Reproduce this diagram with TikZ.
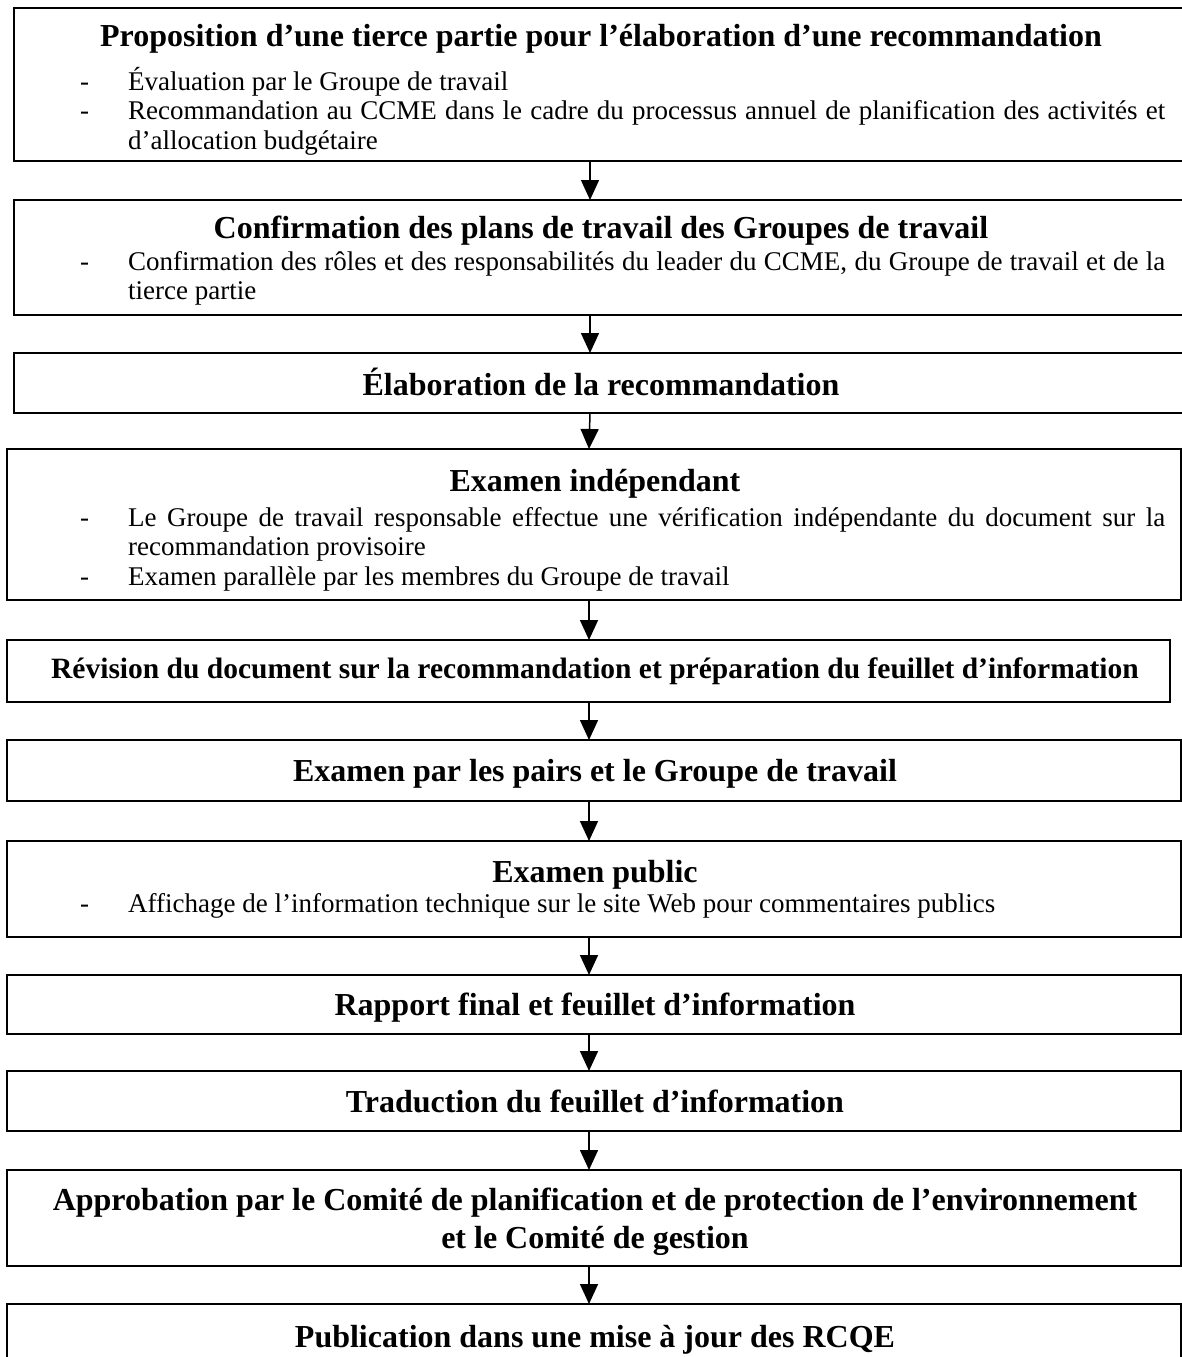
\documentclass[tikz,border=0pt]{standalone}
\usepackage{fontspec}
\setmainfont{Liberation Serif}
\usetikzlibrary{arrows.meta}
\begin{document}
\begin{tikzpicture}[x=1pt,y=-1pt,
  box/.style={draw=black,line width=1.6pt,fill=none},
  ttl/.style={inner sep=0pt,anchor=base,font=\fontsize{32}{38}\selectfont\bfseries},
  bdy/.style={inner sep=0pt,anchor=base west,font=\fontsize{27}{29.5}\selectfont,text width=1085pt,align=justify},
  arr/.style={line width=1.5pt,-{Triangle[length=20pt,width=18pt]}}]
\useasboundingbox (0,0) rectangle (1182,1357);
\fill[white] (0,0) rectangle (1182,1357);
\newcommand{\itm}[1]{\hangindent=48pt\hangafter=1\noindent\makebox[48pt][l]{-}#1\par}
% boxes
\draw[box] (14,8) rectangle (1200,161);
\coordinate (b1s) at (590,161);
\coordinate (b2n) at (590,200);
\draw[box] (14,200) rectangle (1200,315);
\coordinate (b2s) at (590,315);
\coordinate (b3n) at (590,353);
\draw[box] (14,353) rectangle (1200,413);
\coordinate (b3s) at (590,413);
\coordinate (b4n) at (589,449);
\draw[box] (7,449) rectangle (1181,600);
\coordinate (b4s) at (589,600);
\coordinate (b5n) at (589,640);
\draw[box] (7,640) rectangle (1170,702);
\coordinate (b5s) at (589,702);
\coordinate (b6n) at (589,740);
\draw[box] (7,740) rectangle (1181,801);
\coordinate (b6s) at (589,801);
\coordinate (b7n) at (589,841);
\draw[box] (7,841) rectangle (1181,937);
\coordinate (b7s) at (589,937);
\coordinate (b8n) at (589,975);
\draw[box] (7,975) rectangle (1181,1034);
\coordinate (b8s) at (589,1034);
\coordinate (b9n) at (589,1071);
\draw[box] (7,1071) rectangle (1181,1131);
\coordinate (b9s) at (589,1131);
\coordinate (b10n) at (589,1170);
\draw[box] (7,1170) rectangle (1181,1266);
\coordinate (b10s) at (589,1266);
\coordinate (b11n) at (589,1304);
\draw[box] (7,1304) rectangle (1181,1380);
% arrows
\draw[arr] (b1s) -- (b2n);
\draw[arr] (b2s) -- (b3n);
\draw[arr] (b3s) -- (b4n);
\draw[arr] (b4s) -- (b5n);
\draw[arr] (b5s) -- (b6n);
\draw[arr] (b6s) -- (b7n);
\draw[arr] (b7s) -- (b8n);
\draw[arr] (b8s) -- (b9n);
\draw[arr] (b9s) -- (b10n);
\draw[arr] (b10s) -- (b11n);
% texts
\node[ttl] (t1) at (601,46) {Proposition d’une tierce partie pour l’élaboration d’une recommandation};
\node[bdy] (t1b) at (80,90) {\itm{Évaluation par le Groupe de travail}\itm{Recommandation au CCME dans le cadre du processus annuel de planification des activités et\linebreak d’allocation budgétaire}};
\node[ttl] (t2) at (601,238) {Confirmation des plans de travail des Groupes de travail};
\node[bdy] (t2b) at (80,270) {\itm{Confirmation des rôles et des responsabilités du leader du CCME, du Groupe de travail et de la\linebreak tierce partie}};
\node[ttl] (t3) at (601,395) {Élaboration de la recommandation};
\node[ttl] (t4) at (595,491) {Examen indépendant};
\node[bdy] (t4b) at (80,526) {\itm{Le Groupe de travail responsable effectue une vérification indépendante du document sur la\linebreak recommandation provisoire}\itm{Examen parallèle par les membres du Groupe de travail}};
\node[ttl,font=\fontsize{29.5}{36}\selectfont\bfseries] (t5) at (595,678) {Révision du document sur la recommandation et préparation du feuillet d’information};
\node[ttl] (t6) at (595,781) {Examen par les pairs et le Groupe de travail};
\node[ttl] (t7) at (595,882) {Examen public};
\node[bdy] (t7b) at (80,912) {\itm{Affichage de l’information technique sur le site Web pour commentaires publics}};
\node[ttl] (t8) at (595,1015) {Rapport final et feuillet d’information};
\node[ttl] (t9) at (595,1112) {Traduction du feuillet d’information};
\node[ttl] (t10) at (595,1210) {Approbation par le Comité de planification et de protection de l’environnement};
\node[ttl] (t10b) at (595,1248) {et le Comité de gestion};
\node[ttl] (t11) at (595,1347) {Publication dans une mise à jour des RCQE};
\end{tikzpicture}
\end{document}
